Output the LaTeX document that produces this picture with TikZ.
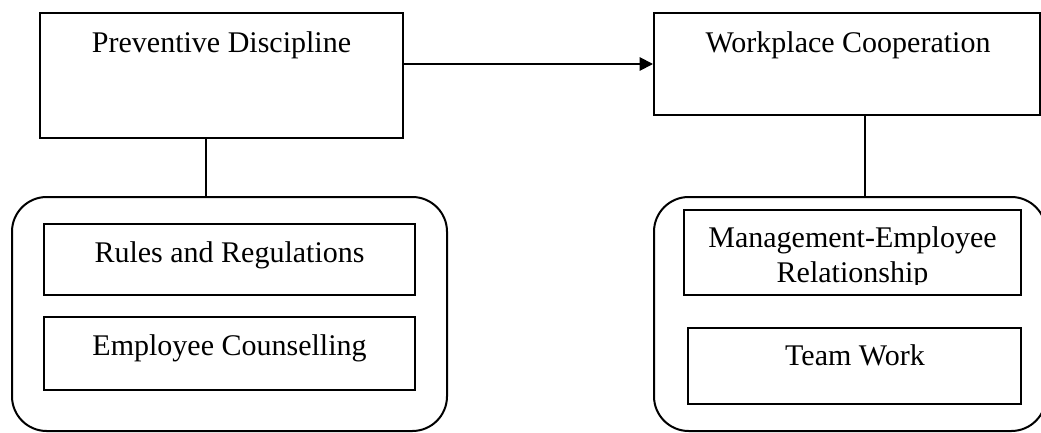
\documentclass[tikz,border=0pt]{standalone}
\usepackage{fontspec}
\setmainfont{Liberation Serif}
\usetikzlibrary{arrows.meta,fit}
\begin{document}
\begin{tikzpicture}[x=0.75pt,y=-0.75pt,
  box/.style={draw,line width=1.5pt,inner sep=0pt},
  group/.style={draw,line width=1.5pt,inner sep=0pt,rounded corners=26pt},
  txt/.style={inner sep=0pt,anchor=base,font=\fontsize{22.5pt}{26.25pt}\selectfont},
  link/.style={line width=1.4pt},
  arr/.style={line width=1.4pt,-{Triangle[length=10pt,width=10pt]}}]
\useasboundingbox (0,0) rectangle (1041,432);
% top boxes
\node[box,fit={(40,13) (403,138)}] (pd) {};
\node[txt] (pdt) at (221.5,52) {Preventive Discipline};
\node[box,fit={(654,13) (1040,115)}] (wc) {};
\node[txt] (wct) at (848,52) {Workplace Cooperation};
% groups
\node[group,fit={(12,197) (447,431)}] (lg) {};
\node[group,fit={(654,197) (1046,431)}] (rg) {};
% left inner boxes
\node[box,fit={(44,224) (415,295)}] (rr) {};
\node[txt] (rrt) at (229.5,262) {Rules and Regulations};
\node[box,fit={(44,317) (415,390)}] (ec) {};
\node[txt] (ect) at (229.5,355) {Employee Counselling};
% right inner boxes
\node[box,fit={(684,210) (1021,295)}] (me) {};
\begin{scope}
\clip (684,210) rectangle (1021,284);
\node[txt] (met1) at (852.5,247) {Management-Employee};
\node[txt] (met2) at (852.5,282) {Relationship};
\end{scope}
\node[box,fit={(688,328) (1021,404)}] (tw) {};
\node[txt] (twt) at (855,365) {Team Work};
% connectors
\draw[arr] (pd.east |- wc.west) -- (wc.west);
\draw[link] ([xshift=-11.6pt]pd.south) -- ([xshift=-11.6pt]pd.south |- lg.north);
\draw[link] ([xshift=13.5pt]wc.south) -- ([xshift=13.5pt]wc.south |- rg.north);
\end{tikzpicture}
\end{document}
